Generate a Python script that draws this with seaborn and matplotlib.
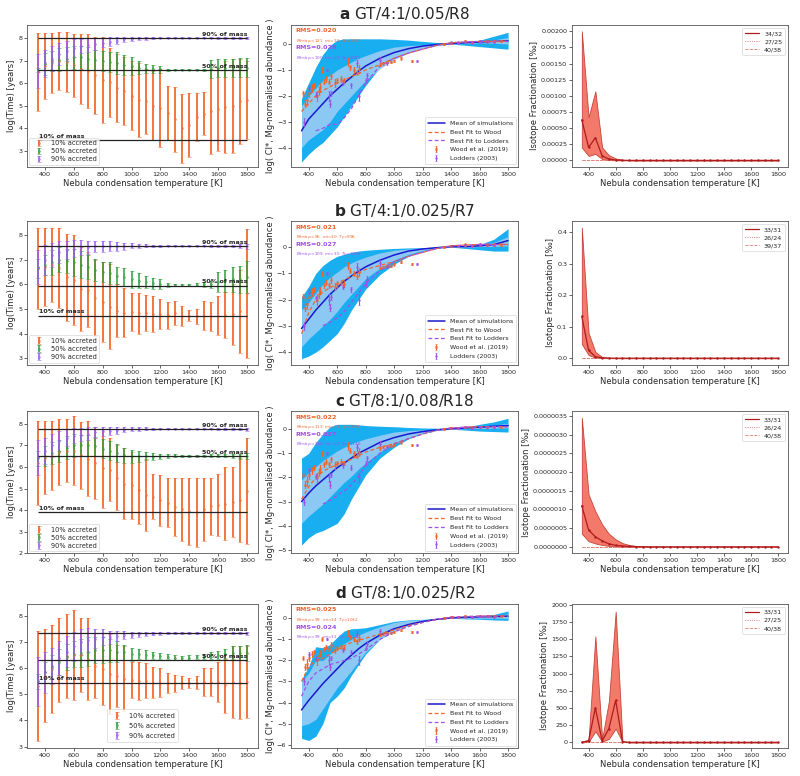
import numpy as np
import pandas as pd
import matplotlib
matplotlib.use("Agg")
import matplotlib.pyplot as plt
from matplotlib.ticker import MultipleLocator, FormatStrFormatter
import seaborn as sns

# ---------------- data ----------------
TEMPS = [350, 400, 450, 500, 550, 600, 650, 700, 750, 800, 850, 900, 950, 1000, 1050,
         1100, 1150, 1200, 1250, 1300, 1350, 1400, 1450, 1500, 1550, 1600, 1650, 1700, 1750, 1800]

ROW_LETTERS = ["a", "b", "c", "d"]
ROW_NAMES = ["GT/4:1/0.05/R8", "GT/4:1/0.025/R7", "GT/8:1/0.08/R18", "GT/8:1/0.025/R2"]

# left column: accretion times (centre, half error bar) for 10%, 50%, 90% accreted
A10_MID = [6.5, 6.76, 6.9, 7.0, 6.95, 6.8, 6.65, 6.55, 6.35, 6.15, 6.05, 5.8, 5.65, 5.45, 5.25,
           5.2, 5.0, 4.9, 4.7, 4.4, 4.0, 4.15, 4.5, 4.65, 4.75, 4.85, 4.95, 5.0, 5.2, 5.25]
A10_ERR = [1.72, 1.46, 1.33, 1.28, 1.33, 1.41, 1.55, 1.63, 1.73, 1.9, 1.53, 1.5, 1.5, 1.53, 1.65,
           1.43, 1.53, 1.73, 1.2, 1.45, 1.53, 1.43, 1.08, 0.95, 1.88, 1.85, 2.05, 2.08, 1.88, 1.73]
A50_MID = [6.6, 6.85, 7.0, 7.05, 7.1, 7.15, 7.15, 7.1, 7.05, 7.0, 6.95, 6.9, 6.8, 6.75, 6.7,
           6.65, 6.62, 6.62, 6.6, 6.6, 6.6, 6.6, 6.6, 6.6, 6.65, 6.7, 6.7, 6.7, 6.7, 6.7]
A50_ERR = [0.1, 0.5, 0.45, 0.5, 0.5, 0.5, 0.5, 0.5, 0.45, 0.45, 0.45, 0.5, 0.45, 0.4, 0.3,
           0.2, 0.18, 0.15, 0.05, 0.02, 0.02, 0.02, 0.02, 0.03, 0.4, 0.4, 0.4, 0.4, 0.42, 0.42]
A90_MID = [6.55, 6.9, 7.1, 7.3, 7.45, 7.55, 7.65, 7.7, 7.75, 7.8, 7.85, 7.9, 7.95, 7.97, 8.0,
           8.0, 8.02, 8.03, 8.03, 8.03, 8.03, 8.03, 8.03, 8.03, 8.03, 8.03, 8.03, 8.03, 8.02, 8.0]
A90_ERR = [0.75, 0.6, 0.55, 0.5, 0.45, 0.4, 0.3, 0.3, 0.25, 0.2, 0.2, 0.15, 0.12, 0.1, 0.08,
           0.06, 0.04, 0.03, 0.02, 0.02, 0.02, 0.02, 0.02, 0.02, 0.03, 0.04, 0.04, 0.04, 0.05, 0.05]

B10_MID = [6.65, 6.7, 6.8, 6.68, 6.28, 6.18, 5.8, 5.78, 5.45, 5.28, 5.08, 4.93, 4.85, 4.88, 4.83,
           4.83, 4.78, 4.8, 4.75, 4.83, 4.7, 4.73, 4.7, 4.73, 4.7, 4.73, 4.75, 4.78, 4.9, 5.63]
B10_ERR = [1.65, 1.6, 1.5, 1.63, 1.78, 1.83, 1.7, 1.53, 1.55, 1.63, 1.73, 1.08, 1.0, 0.78, 0.83,
           0.73, 0.73, 0.6, 0.55, 0.48, 0.4, 0.23, 0.3, 0.58, 0.6, 0.78, 0.95, 1.23, 1.7, 2.63]
B50_MID = [6.65, 6.8, 6.9, 7.0, 6.95, 6.9, 6.8, 6.7, 6.6, 6.5, 6.45, 6.35, 6.3, 6.2, 6.15,
           6.1, 6.05, 6.02, 5.98, 5.97, 5.97, 5.97, 5.98, 6.0, 6.0, 6.1, 6.15, 6.2, 6.2, 6.3]
B50_ERR = [0.4, 0.4, 0.5, 0.5, 0.5, 0.55, 0.55, 0.5, 0.45, 0.4, 0.45, 0.35, 0.35, 0.35, 0.3,
           0.25, 0.22, 0.2, 0.08, 0.04, 0.04, 0.04, 0.06, 0.1, 0.15, 0.4, 0.45, 0.5, 0.55, 0.65]
B90_MID = [6.7, 7.0, 7.2, 7.3, 7.4, 7.45, 7.5, 7.5, 7.55, 7.55, 7.55, 7.55, 7.55, 7.57, 7.57,
           7.57, 7.57, 7.57, 7.57, 7.57, 7.57, 7.57, 7.57, 7.57, 7.57, 7.57, 7.57, 7.57, 7.56, 7.55]
B90_ERR = [0.7, 0.6, 0.5, 0.45, 0.35, 0.35, 0.3, 0.25, 0.22, 0.22, 0.2, 0.18, 0.15, 0.1, 0.08,
           0.06, 0.05, 0.04, 0.03, 0.03, 0.03, 0.03, 0.03, 0.03, 0.04, 0.05, 0.05, 0.05, 0.07, 0.1]

C10_MID = [6.18, 6.43, 6.53, 6.68, 6.75, 6.75, 6.55, 6.38, 6.18, 5.93, 5.88, 5.5, 5.23, 5.15, 4.93,
           4.7, 4.63, 4.45, 4.35, 4.15, 4.03, 3.95, 3.9, 4.03, 4.18, 4.23, 4.3, 4.38, 4.45, 4.9]
C10_ERR = [1.93, 1.68, 1.58, 1.53, 1.45, 1.6, 1.55, 1.73, 1.68, 1.83, 1.48, 1.5, 1.63, 1.55, 1.58,
           1.65, 1.03, 1.2, 1.15, 1.35, 1.48, 1.55, 1.6, 1.48, 1.33, 1.43, 1.7, 1.63, 1.95, 2.45]
C50_MID = [6.4, 6.5, 6.65, 6.75, 6.9, 7.0, 7.0, 7.0, 6.95, 6.85, 6.75, 6.65, 6.55, 6.5, 6.5,
           6.5, 6.48, 6.5, 6.5, 6.52, 6.52, 6.52, 6.52, 6.52, 6.52, 6.52, 6.52, 6.52, 6.5, 6.5]
C50_ERR = [0.35, 0.45, 0.5, 0.5, 0.55, 0.55, 0.5, 0.5, 0.45, 0.45, 0.45, 0.4, 0.35, 0.3, 0.25,
           0.2, 0.15, 0.12, 0.1, 0.06, 0.05, 0.05, 0.05, 0.05, 0.06, 0.08, 0.08, 0.1, 0.12, 0.15]
C90_MID = [6.45, 6.75, 7.0, 7.2, 7.35, 7.45, 7.5, 7.55, 7.6, 7.65, 7.65, 7.7, 7.72, 7.75, 7.75,
           7.77, 7.77, 7.77, 7.77, 7.77, 7.77, 7.77, 7.77, 7.77, 7.77, 7.77, 7.77, 7.77, 7.76, 7.75]
C90_ERR = [0.8, 0.6, 0.55, 0.45, 0.4, 0.35, 0.3, 0.28, 0.25, 0.2, 0.18, 0.15, 0.12, 0.1, 0.08,
           0.06, 0.04, 0.03, 0.03, 0.03, 0.03, 0.03, 0.03, 0.03, 0.03, 0.04, 0.04, 0.05, 0.06, 0.07]

D10_MID = [5.33, 5.73, 5.98, 6.33, 6.48, 6.53, 6.53, 6.38, 6.1, 5.98, 5.78, 5.7, 5.6, 5.55, 5.53,
           5.53, 5.45, 5.45, 5.43, 5.43, 5.45, 5.45, 5.45, 5.48, 5.48, 5.48, 5.35, 5.48, 5.45, 5.48]
D10_ERR = [2.13, 1.78, 1.68, 1.63, 1.63, 1.73, 1.43, 1.58, 1.25, 1.38, 1.53, 1.2, 1.25, 0.7, 0.73,
           0.68, 0.6, 0.55, 0.38, 0.33, 0.25, 0.2, 0.25, 0.53, 0.53, 0.78, 1.05, 1.38, 1.4, 1.38]
D50_MID = [5.5, 5.85, 6.05, 6.25, 6.45, 6.55, 6.6, 6.65, 6.7, 6.7, 6.7, 6.65, 6.62, 6.55, 6.55,
           6.52, 6.5, 6.47, 6.45, 6.42, 6.4, 6.42, 6.45, 6.45, 6.5, 6.52, 6.55, 6.6, 6.6, 6.6]
D50_ERR = [0.3, 0.4, 0.45, 0.5, 0.5, 0.5, 0.55, 0.55, 0.5, 0.5, 0.45, 0.4, 0.3, 0.25, 0.2,
           0.18, 0.15, 0.12, 0.1, 0.1, 0.08, 0.08, 0.08, 0.1, 0.12, 0.15, 0.2, 0.25, 0.28, 0.3]
D90_MID = [5.5, 5.85, 6.1, 6.4, 6.65, 6.85, 7.0, 7.1, 7.15, 7.2, 7.2, 7.25, 7.28, 7.3, 7.32,
           7.33, 7.34, 7.35, 7.35, 7.36, 7.36, 7.36, 7.36, 7.36, 7.36, 7.36, 7.36, 7.36, 7.36, 7.35]
D90_ERR = [0.95, 0.8, 0.7, 0.65, 0.6, 0.55, 0.5, 0.45, 0.35, 0.3, 0.25, 0.2, 0.15, 0.12, 0.1,
           0.08, 0.06, 0.05, 0.04, 0.03, 0.03, 0.03, 0.03, 0.03, 0.03, 0.03, 0.04, 0.04, 0.04, 0.05]

# horizontal reference levels: 10%, 50%, 90% of mass
LEVELS_A = [3.47, 6.6, 8.03]
LEVELS_B = [4.73, 5.95, 7.57]
LEVELS_C = [3.9, 6.52, 7.77]
LEVELS_D = [5.46, 6.31, 7.36]
LEVEL_TEXTS = ["10% of mass", "50% of mass", "90% of mass"]
ACC_LABELS = ["10% accreted", "50% accreted", "90% accreted"]

# middle column: simulated Cl abundance
T_MID = [350, 400, 450, 500, 550, 600, 650, 700, 750, 800, 900, 1000, 1100, 1200, 1300,
         1400, 1500, 1600, 1700, 1800]
NAN = float("nan")

MEAN_A = [-3.35, -2.9, -2.6, -2.3, -2.0, -1.75, -1.5, -1.28, -1.05, -0.85, -0.55, -0.33, -0.18, -0.08, -0.02, 0.02, 0.05, 0.08, 0.1, 0.12]
OUT_HI_A = [-2.1, -1.5, -0.9, -0.4, -0.05, 0.15, 0.2, 0.2, 0.2, 0.2, 0.2, 0.18, 0.15, 0.1, 0.06, 0.04, 0.08, 0.15, 0.3, 0.45]
OUT_LO_A = [-4.55, -4.25, -4.0, -3.8, -3.5, -3.2, -2.8, -2.4, -2.0, -1.6, -0.9, -0.5, -0.25, -0.12, -0.05, 0.0, -0.05, -0.1, -0.15, -0.2]
IN_HI_A = [-2.4, -2.0, -1.7, -1.4, -1.2, -1.0, -0.85, -0.7, -0.55, -0.45, -0.25, -0.12, -0.06, -0.03, 0.0, 0.02, 0.05, 0.1, 0.16, 0.25]
IN_LO_A = [-4.0, -3.7, -3.5, -3.3, -3.0, -2.6, -2.3, -2.0, -1.7, -1.4, -0.95, -0.6, -0.35, -0.18, -0.07, 0.0, 0.02, 0.05, 0.03, 0.0]
WFIT_A = [-2.6, -2.3, -2.0, -1.8, -1.65, -1.5, -1.4, -1.25, -1.15, -1.0, -0.8, -0.55, -0.35, -0.2, -0.05, 0.05, 0.08, 0.1, 0.1, 0.1]
LFIT_A = [NAN, NAN, -3.35, -3.25, -3.1, -3.1, -2.85, -2.5, -2.0, -1.5, -0.85, -0.55, -0.35, -0.2, -0.05, 0.05, 0.08, 0.1, 0.1, 0.1]

MEAN_B = [-3.1, -2.75, -2.4, -2.1, -1.8, -1.55, -1.3, -1.1, -0.92, -0.75, -0.5, -0.3, -0.15, -0.07, -0.02, 0.02, 0.02, 0.05, 0.1, 0.25]
OUT_HI_B = [-1.9, -1.5, -1.0, -0.7, -0.5, -0.35, -0.27, -0.2, -0.15, -0.12, -0.08, -0.05, -0.03, -0.02, 0.0, 0.02, 0.05, 0.1, 0.3, 0.7]
OUT_LO_B = [-4.25, -4.15, -4.0, -3.8, -3.55, -3.3, -2.9, -2.4, -2.0, -1.6, -1.05, -0.65, -0.35, -0.15, -0.05, 0.0, -0.05, -0.1, -0.15, -0.15]
IN_HI_B = [-2.4, -2.1, -1.75, -1.4, -1.15, -0.95, -0.75, -0.6, -0.48, -0.38, -0.22, -0.12, -0.07, -0.04, -0.01, 0.02, 0.04, 0.08, 0.18, 0.4]
IN_LO_B = [-3.8, -3.5, -3.25, -3.0, -2.75, -2.45, -2.1, -1.8, -1.5, -1.2, -0.8, -0.5, -0.28, -0.12, -0.04, 0.0, 0.0, 0.02, 0.03, 0.05]
WFIT_B = [-3.3, -2.5, -2.0, -1.7, -1.55, -1.4, -1.25, -1.1, -1.0, -0.85, -0.7, -0.55, -0.35, -0.2, -0.05, 0.05, 0.08, 0.1, 0.1, 0.1]
LFIT_B = [NAN, NAN, NAN, -3.0, -2.85, -2.7, -2.45, -2.1, -1.75, -1.4, -0.9, -0.55, -0.35, -0.2, -0.05, 0.05, 0.08, 0.1, 0.1, 0.1]

MEAN_C = [-3.0, -2.65, -2.35, -2.1, -1.85, -1.6, -1.4, -1.2, -1.0, -0.85, -0.55, -0.35, -0.2, -0.1, -0.03, 0.02, 0.05, 0.08, 0.12, 0.15]
OUT_HI_C = [-1.2, -1.0, -0.55, -0.2, 0.1, 0.2, 0.2, 0.2, 0.18, 0.15, 0.12, 0.1, 0.07, 0.05, 0.04, 0.03, 0.08, 0.2, 0.3, 0.45]
OUT_LO_C = [-4.8, -4.5, -4.3, -4.2, -4.05, -3.9, -3.5, -2.9, -2.4, -1.9, -1.2, -0.75, -0.4, -0.18, -0.05, 0.0, -0.04, -0.08, -0.1, -0.12]
IN_HI_C = [-2.1, -1.8, -1.55, -1.3, -1.1, -0.9, -0.75, -0.6, -0.5, -0.4, -0.25, -0.12, -0.06, -0.03, 0.0, 0.02, 0.05, 0.08, 0.15, 0.25]
IN_LO_C = [-3.9, -3.6, -3.35, -3.1, -2.8, -2.5, -2.2, -1.95, -1.65, -1.4, -0.95, -0.6, -0.35, -0.15, -0.05, 0.0, 0.02, 0.03, 0.04, 0.05]
WFIT_C = [-2.9, -2.4, -2.0, -1.75, -1.6, -1.45, -1.35, -1.25, -1.1, -0.95, -0.75, -0.6, -0.4, -0.2, -0.05, 0.05, 0.08, 0.1, 0.1, 0.1]
LFIT_C = [NAN, NAN, NAN, -3.1, -2.95, -2.75, -2.55, -2.3, -1.95, -1.5, -1.0, -0.6, -0.4, -0.2, -0.05, 0.05, 0.08, 0.1, 0.1, 0.1]

MEAN_D = [-4.35, -3.9, -3.5, -3.1, -2.75, -2.4, -2.05, -1.75, -1.45, -1.2, -0.8, -0.5, -0.3, -0.15, -0.05, 0.02, 0.05, 0.07, 0.08, 0.1]
OUT_HI_D = [-2.9, -2.3, -1.35, -1.4, -1.25, -0.9, -0.6, -0.5, -0.48, -0.45, -0.3, -0.15, -0.08, -0.05, -0.02, 0.02, 0.05, 0.1, 0.18, 0.35]
OUT_LO_D = [-5.7, -5.8, -5.6, -5.0, -4.0, -3.7, -3.3, -2.7, -2.2, -1.7, -1.0, -0.6, -0.35, -0.15, -0.05, 0.0, -0.03, -0.05, -0.08, -0.1]
IN_HI_D = [-3.0, -2.6, -2.0, -2.0, -1.7, -1.4, -1.2, -1.0, -0.8, -0.65, -0.4, -0.2, -0.1, -0.06, -0.02, 0.02, 0.05, 0.08, 0.12, 0.2]
IN_LO_D = [-5.1, -5.0, -4.8, -4.3, -3.8, -3.3, -2.9, -2.5, -2.05, -1.6, -1.0, -0.6, -0.35, -0.15, -0.05, 0.0, 0.0, 0.0, 0.0, 0.0]
WFIT_D = [-3.0, -2.3, -2.0, -1.9, -1.7, -1.5, -1.3, -1.15, -1.05, -0.95, -0.75, -0.55, -0.35, -0.2, -0.05, 0.05, 0.08, 0.1, 0.1, 0.1]
LFIT_D = [-3.7, -3.0, -2.6, -2.4, -2.2, -2.1, -2.0, -1.9, -1.7, -1.5, -1.0, -0.65, -0.4, -0.2, -0.05, 0.05, 0.08, 0.1, 0.1, 0.1]

# observed abundances (same in every row)
WOOD_T = [360, 372, 390, 405, 425, 440, 460, 470, 480, 492, 505, 520, 540, 560, 585, 600, 625, 650, 675, 690,
          720, 740, 750, 900, 925, 950, 975, 1000, 1050, 1125, 1350, 1400, 1450, 1500, 1550, 1600, 1650, 1700, 1750]
WOOD_V = [-1.9, -2.3, -2.15, -1.9, -1.7, -1.6, -2.0, -1.8, -1.65, -1.0, -1.45, -1.35, -1.45, -1.25, -1.5, -1.4, -1.35, -1.4, -0.7, -0.9,
          -1.0, -1.1, -0.95, -0.8, -0.75, -0.7, -0.7, -0.65, -0.55, -0.65, 0.0, 0.05, 0.05, 0.1, 0.08, 0.1, 0.1, 0.1, 0.1]
WOOD_E = [0.1, 0.15, 0.2, 0.15, 0.15, 0.1, 0.2, 0.15, 0.15, 0.1, 0.1, 0.1, 0.1, 0.1, 0.15, 0.1, 0.1, 0.1, 0.15, 0.1,
          0.1, 0.1, 0.15, 0.05, 0.05, 0.05, 0.05, 0.05, 0.05, 0.04, 0.04, 0.04, 0.04, 0.04, 0.04, 0.04, 0.04, 0.04, 0.04]
LODD_T = [365, 400, 450, 530, 540, 550, 560, 640, 700, 740, 755, 800, 810, 900, 950, 1160, 1400, 1450, 1500, 1550, 1600, 1650, 1700]
LODD_V = [-3.0, -1.7, -1.95, -1.0, -2.0, -2.3, -1.9, -1.5, -1.6, -0.75, -2.0, -1.4, -1.2, -0.6, -0.75, -0.65, 0.05, 0.05, 0.08, 0.05, 0.1, 0.1, 0.08]
LODD_E = [0.15, 0.1, 0.1, 0.05, 0.2, 0.15, 0.1, 0.1, 0.1, 0.15, 0.2, 0.1, 0.1, 0.1, 0.05, 0.04, 0.05, 0.05, 0.05, 0.05, 0.05, 0.05, 0.05]

# fit statistics (RMS, M_embryo, m_t, T_p) for Wood and Lodders
RMS_WOOD = ["0.020", "0.021", "0.022", "0.025"]
RMS_LODD = ["0.026", "0.027", "0.027", "0.024"]
PAR_WOOD = [(121, 35, 1097), (96, 30, 996), (113, 33, 1057), (99, 34, 1032)]
PAR_LODD = [(100, 38, 1081), (109, 35, 1088), (138, 34, 1138), (99, 32, 1112)]

# right column: isotope fractionation (mean, lower, upper)
RA_MEAN = [0.00063, 0.00020, 0.00035, 0.00007, 0.00002, 0.000005, 0.000001, 0, 0, 0, 0, 0, 0, 0, 0,
           0, 0, 0, 0, 0, 0, 0, 0, 0, 0, 0, 0, 0, 0, 0]
RA_LO = [0.00020, 0.00007, 0.00010, 0.00002, 0.000005, 0.000001, 0, 0, 0, 0, 0, 0, 0, 0, 0,
         0, 0, 0, 0, 0, 0, 0, 0, 0, 0, 0, 0, 0, 0, 0]
RA_HI = [0.00200, 0.00067, 0.00107, 0.00020, 0.00008, 0.00003, 0.00001, 0.000002, 0, 0, 0, 0, 0, 0, 0,
         0, 0, 0, 0, 0, 0, 0, 0, 0, 0, 0, 0, 0, 0, 0]
RB_MEAN = [0.133, 0.025, 0.005, 0.001, 0.0002, 0, 0, 0, 0, 0, 0, 0, 0, 0, 0,
           0, 0, 0, 0, 0, 0, 0, 0, 0, 0, 0, 0, 0, 0, 0]
RB_LO = [0.045, 0.010, 0.002, 0.0003, 0, 0, 0, 0, 0, 0, 0, 0, 0, 0, 0,
         0, 0, 0, 0, 0, 0, 0, 0, 0, 0, 0, 0, 0, 0, 0]
RB_HI = [0.415, 0.080, 0.020, 0.004, 0.001, 0, 0, 0, 0, 0, 0, 0, 0, 0, 0,
         0, 0, 0, 0, 0, 0, 0, 0, 0, 0, 0, 0, 0, 0, 0]
RC_MEAN = [1.1e-6, 4.5e-7, 2.7e-7, 1.6e-7, 8e-8, 4e-8, 2e-8, 1e-8, 5e-9, 2e-9, 0, 0, 0, 0, 0,
           0, 0, 0, 0, 0, 0, 0, 0, 0, 0, 0, 0, 0, 0, 0]
RC_LO = [3.5e-7, 1.5e-7, 9e-8, 5e-8, 2.5e-8, 1e-8, 5e-9, 2e-9, 0, 0, 0, 0, 0, 0, 0,
         0, 0, 0, 0, 0, 0, 0, 0, 0, 0, 0, 0, 0, 0, 0]
RC_HI = [3.45e-6, 1.4e-6, 9.5e-7, 6e-7, 3.5e-7, 2e-7, 1e-7, 5e-8, 2.5e-8, 1.2e-8, 5e-9, 0, 0, 0, 0,
         0, 0, 0, 0, 0, 0, 0, 0, 0, 0, 0, 0, 0, 0, 0]
RD_MEAN = [0, 20, 500, 20, 200, 610, 10, 0, 0, 0, 0, 0, 0, 0, 0,
           0, 0, 0, 0, 0, 0, 0, 0, 0, 0, 0, 0, 0, 0, 0]
RD_LO = [0, 5, 160, 10, 50, 200, 5, 0, 0, 0, 0, 0, 0, 0, 0,
         0, 0, 0, 0, 0, 0, 0, 0, 0, 0, 0, 0, 0, 0, 0]
RD_HI = [10, 40, 1540, 50, 600, 1900, 20, 0, 0, 0, 0, 0, 0, 0, 0,
         0, 0, 0, 0, 0, 0, 0, 0, 0, 0, 0, 0, 0, 0, 0]
R_OTHER = [0, 0, 0, 0, 0, 0, 0, 0, 0, 0, 0, 0, 0, 0, 0,
           0, 0, 0, 0, 0, 0, 0, 0, 0, 0, 0, 0, 0, 0, 0]
ISO_LABELS = [["34/32", "27/25", "40/38"], ["33/31", "26/24", "39/37"],
              ["33/31", "26/24", "40/38"], ["33/31", "27/25", "40/38"]]
RIGHT_YLIMS = [None, None, None, (-83, 2015)]

# ---------------- style ----------------
sns.set_style("ticks")
plt.rcParams["font.family"] = ["DejaVu Sans"]
plt.rcParams["axes.edgecolor"] = "#555555"
plt.rcParams["axes.linewidth"] = 0.6
plt.rcParams["xtick.major.size"] = 2
plt.rcParams["ytick.major.size"] = 2
plt.rcParams["xtick.major.width"] = 0.5
plt.rcParams["ytick.major.width"] = 0.5
plt.rcParams["xtick.major.pad"] = 1.5
plt.rcParams["ytick.major.pad"] = 1.5
plt.rcParams["xtick.labelsize"] = 4.6
plt.rcParams["ytick.labelsize"] = 4.6
plt.rcParams["axes.labelsize"] = 6
plt.rcParams["axes.labelpad"] = 1.5

C_ACC = ["#f26a2e", "#2e9e3a", "#9a5cf2"]
C_OUTER = "#19aef0"
C_INNER = "#8bc8f4"
C_MEAN = "#1a1ad0"
C_WOOD = "#f0642a"
C_LODD = "#a050e8"
C_RED = "#b01c1c"
C_FILL = "#f26a5a"

XLAB = "Nebula condensation temperature [K]"

fig = plt.figure(figsize=(8.0, 7.76), dpi=100)

COLS = [(0.034, 0.288), (0.364, 0.284), (0.715, 0.27)]
ROWS = [(0.785, 0.183), (0.530, 0.185), (0.287, 0.183), (0.036, 0.186)]

LEFT_DATA = [
    ([A10_MID, A50_MID, A90_MID], [A10_ERR, A50_ERR, A90_ERR], LEVELS_A, (2.29, 8.6)),
    ([B10_MID, B50_MID, B90_MID], [B10_ERR, B50_ERR, B90_ERR], LEVELS_B, (2.73, 8.57)),
    ([C10_MID, C50_MID, C90_MID], [C10_ERR, C50_ERR, C90_ERR], LEVELS_C, (2.0, 8.58)),
    ([D10_MID, D50_MID, D90_MID], [D10_ERR, D50_ERR, D90_ERR], LEVELS_D, (2.94, 8.49)),
]
MID_DATA = [
    (MEAN_A, OUT_LO_A, OUT_HI_A, IN_LO_A, IN_HI_A, WFIT_A, LFIT_A, (-4.74, 0.74)),
    (MEAN_B, OUT_LO_B, OUT_HI_B, IN_LO_B, IN_HI_B, WFIT_B, LFIT_B, (-4.48, 0.99)),
    (MEAN_C, OUT_LO_C, OUT_HI_C, IN_LO_C, IN_HI_C, WFIT_C, LFIT_C, (-5.14, 0.74)),
    (MEAN_D, OUT_LO_D, OUT_HI_D, IN_LO_D, IN_HI_D, WFIT_D, LFIT_D, (-6.16, 0.69)),
]
RIGHT_DATA = [
    (RA_MEAN, RA_LO, RA_HI, 0.00025, "%.5f"),
    (RB_MEAN, RB_LO, RB_HI, 0.1, "%.1f"),
    (RC_MEAN, RC_LO, RC_HI, 5e-7, "%.7f"),
    (RD_MEAN, RD_LO, RD_HI, 250, "%d"),
]

for r in range(4):
    bottom, height = ROWS[r]

    # ---------- left ----------
    ax = fig.add_axes([COLS[0][0], bottom, COLS[0][1], height])
    mids, errs, levels, ylim = LEFT_DATA[r]
    lws = [1.3, 1.1, 1.1]
    for mid, err, col, lab, lw in zip(mids, errs, C_ACC, ACC_LABELS, lws):
        ax.errorbar(TEMPS, mid, yerr=err, fmt="o", ms=1.3, mfc="none", mec=col, mew=0.4,
                    ecolor=col, elinewidth=lw, capsize=1.3, capthick=0.6, label=lab)
    for k, (lev, txt) in enumerate(zip(levels, LEVEL_TEXTS)):
        ax.hlines(lev, TEMPS[0], TEMPS[-1], color="#222222", lw=0.9, zorder=5)
        if k == 0:
            ax.annotate(txt, (TEMPS[0], lev), xytext=(1, 0.8), textcoords="offset points",
                        ha="left", va="bottom", fontsize=4.6, fontweight="bold", zorder=6)
        else:
            ax.annotate(txt, (TEMPS[-1], lev), xytext=(0, 0.8), textcoords="offset points",
                        ha="right", va="bottom", fontsize=4.6, fontweight="bold", zorder=6)
    ax.set_ylim(*ylim)
    ax.xaxis.set_major_locator(MultipleLocator(200))
    ax.yaxis.set_major_locator(MultipleLocator(1))
    ax.set_xlabel(XLAB)
    ax.set_ylabel("log(Time) [years]")
    if r == 3:
        leg = ax.legend(loc="lower center", bbox_to_anchor=(0.5, 0.02), fontsize=4.8,
                        handlelength=2.0, borderpad=0.5, labelspacing=0.6)
    else:
        leg = ax.legend(loc="lower left", fontsize=4.8, handlelength=2.0, borderpad=0.4,
                        labelspacing=0.3, borderaxespad=0.3)
    leg.get_frame().set_linewidth(0.5)

    # ---------- middle ----------
    ax = fig.add_axes([COLS[1][0], bottom, COLS[1][1], height])
    mean, olo, ohi, ilo, ihi, wfit, lfit, ylim = MID_DATA[r]
    ax.fill_between(T_MID, olo, ohi, color=C_OUTER, lw=0, zorder=1)
    ax.fill_between(T_MID, ilo, ihi, color=C_INNER, lw=0, zorder=2)
    df = pd.DataFrame({"T": T_MID, "mean": mean, "wood": wfit, "lodd": lfit})
    sns.lineplot(data=df, x="T", y="mean", ax=ax, color=C_MEAN, lw=1.1,
                 label="Mean of simulations", zorder=4)
    sns.lineplot(data=df, x="T", y="wood", ax=ax, color=C_WOOD, lw=0.9, ls=(0, (3, 2)),
                 label="Best Fit to Wood", zorder=4)
    sns.lineplot(data=df, x="T", y="lodd", ax=ax, color=C_LODD, lw=0.9, ls=(0, (3, 2)),
                 label="Best Fit to Lodders", zorder=4)
    ax.errorbar(WOOD_T, WOOD_V, yerr=WOOD_E, fmt="s", ms=1.3, mfc="none", mec=C_WOOD, mew=0.4,
                ecolor=C_WOOD, elinewidth=0.8, capsize=1.0, capthick=0.5,
                label="Wood et al. (2019)", zorder=5)
    ax.errorbar(LODD_T, LODD_V, yerr=LODD_E, fmt="o", ms=1.3, mfc="none", mec=C_LODD, mew=0.4,
                ecolor=C_LODD, elinewidth=0.8, capsize=1.0, capthick=0.5,
                label="Lodders (2003)", zorder=5)
    ax.set_ylim(*ylim)
    ax.xaxis.set_major_locator(MultipleLocator(200))
    ax.yaxis.set_major_locator(MultipleLocator(1))
    ax.set_xlabel(XLAB)
    ax.set_ylabel("log( Cl*, Mg-normalised abundance )")
    leg = ax.legend(loc="lower right", fontsize=4.5, handlelength=2.6, borderpad=0.5,
                    labelspacing=0.55, borderaxespad=0.4)
    leg.get_frame().set_linewidth(0.5)
    pw, pl = PAR_WOOD[r], PAR_LODD[r]
    ax.text(0.02, 0.975, "RMS=" + RMS_WOOD[r], transform=ax.transAxes, color=C_WOOD,
            fontsize=4.6, fontweight="bold", va="top")
    ax.text(0.02, 0.915, r"$M_{embryo}$=%d  $m_t$=%d  $T_p$=%d" % pw, transform=ax.transAxes,
            color=C_WOOD, fontsize=3.0, va="top")
    ax.text(0.02, 0.855, "RMS=" + RMS_LODD[r], transform=ax.transAxes, color=C_LODD,
            fontsize=4.6, fontweight="bold", va="top")
    ax.text(0.02, 0.795, r"$M_{embryo}$=%d  $m_t$=%d  $T_p$=%d" % pl, transform=ax.transAxes,
            color=C_LODD, fontsize=3.0, va="top")
    ax.set_title(r"$\mathbf{%s}$ %s" % (ROW_LETTERS[r], ROW_NAMES[r]), fontsize=11, pad=4)

    # ---------- right ----------
    ax = fig.add_axes([COLS[2][0], bottom, COLS[2][1], height])
    rmean, rlo, rhi, step, fmt = RIGHT_DATA[r]
    ax.fill_between(TEMPS, rlo, rhi, color=C_FILL, alpha=0.9, lw=0.6, edgecolor="#c0392b", zorder=1)
    rdf = pd.DataFrame({"T": TEMPS, "m": rmean, "o": R_OTHER})
    labs = ISO_LABELS[r]
    sns.lineplot(data=rdf, x="T", y="m", ax=ax, color=C_RED, lw=0.9, label=labs[0], zorder=3)
    sns.scatterplot(data=rdf, x="T", y="m", ax=ax, color=C_RED, s=3, linewidth=0,
                    legend=False, zorder=4)
    sns.lineplot(data=rdf, x="T", y="o", ax=ax, color="#d9534f", lw=0.6, ls=":",
                 label=labs[1], zorder=2)
    sns.lineplot(data=rdf, x="T", y="o", ax=ax, color="#e07a70", lw=0.6, ls="--",
                 label=labs[2], zorder=2)
    if RIGHT_YLIMS[r] is not None:
        ax.set_ylim(*RIGHT_YLIMS[r])
    ax.xaxis.set_major_locator(MultipleLocator(200))
    ax.yaxis.set_major_locator(MultipleLocator(step))
    ax.yaxis.set_major_formatter(FormatStrFormatter(fmt))
    ax.set_xlabel(XLAB)
    ax.set_ylabel("Isotope Fractionation [‰]")
    leg = ax.legend(loc="upper right", fontsize=4.6, handlelength=2.2, borderpad=0.4,
                    labelspacing=0.4)
    leg.get_frame().set_linewidth(0.5)

fig.savefig("out.png", dpi=100)
